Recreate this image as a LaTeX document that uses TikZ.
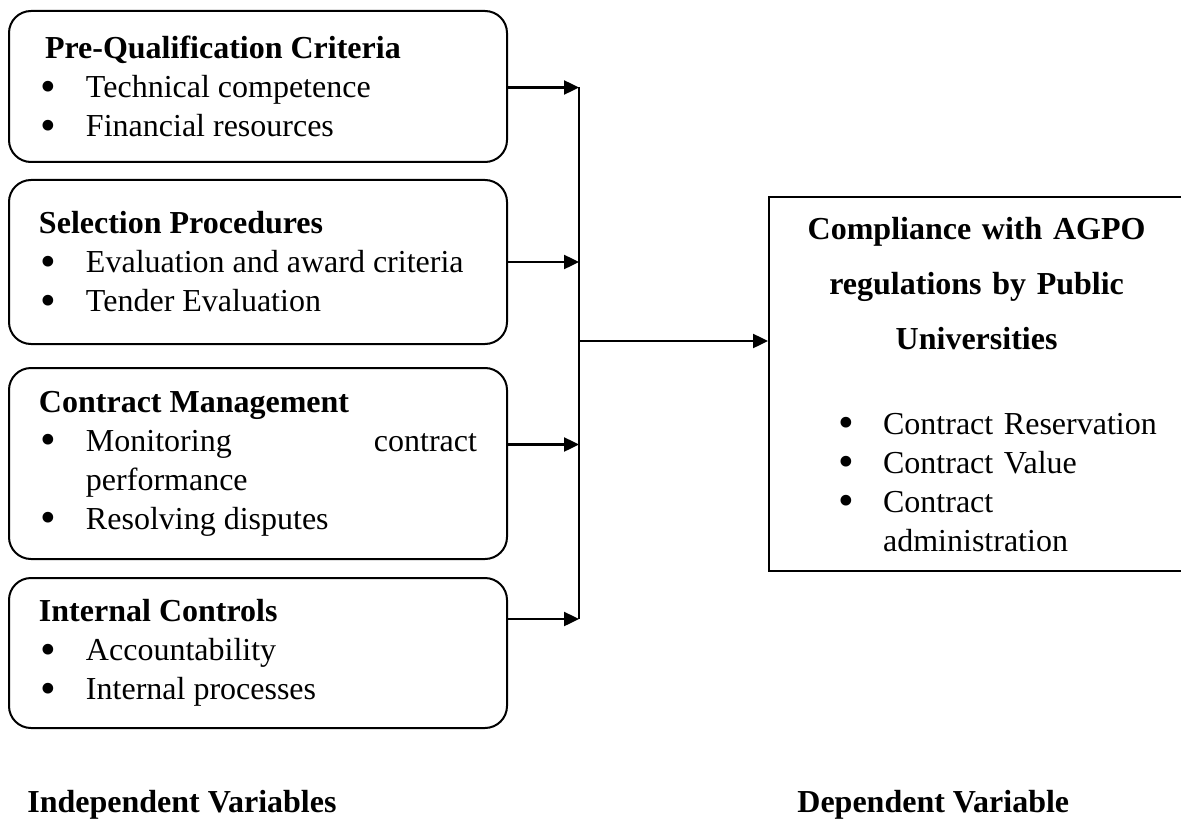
\documentclass[tikz,border=0pt]{standalone}
\usepackage{fontspec}
\setmainfont{Liberation Serif}
\usetikzlibrary{positioning,arrows.meta}
\tikzstyle{indbox} = [rectangle, draw, line width=1pt, rounded corners=11pt, minimum width=249pt, text width=219pt, inner xsep=15pt, inner ysep=0pt, align=justify]
\tikzstyle{depbox} = [rectangle, draw, line width=1.1pt, minimum width=207.5pt, minimum height=187pt, text width=197.5pt, inner xsep=5pt, align=center]
\tikzstyle{connector} = [line width=1.2pt,-{Triangle[length=7.5pt,width=7pt]}]
\tikzstyle{varlabel} = [font=\fontsize{16}{19.5}\selectfont\bfseries, inner sep=0pt, anchor=base west]

\newcommand{\bigdot}{\smash{\raisebox{-0.12em}{\scalebox{1.4}{\textbullet}}}}
\newcommand{\bitem}[1]{\par\noindent\hangindent=23.5pt\hangafter=1\makebox[23.5pt][l]{\hspace{1pt}\bigdot}#1}

\begin{document}
\begin{tikzpicture}[x=0.5pt,y=-0.5pt,font=\fontsize{16}{19.5}\selectfont]
    \useasboundingbox (0,0) rectangle (1181,818);
    % independent variables
    \node[indbox, minimum height=75.5pt, anchor=north west] (pre-qual) at (8,10)
        {\noindent\hspace*{3pt}\textbf{Pre-Qualification Criteria}\bitem{Technical competence}\bitem{Financial resources}};
    \node[indbox, minimum height=82pt, below=8pt of pre-qual] (selection)
        {\noindent\textbf{Selection Procedures}\bitem{Evaluation and award criteria}\bitem{Tender Evaluation}\par\vspace*{12pt}};
    \node[indbox, minimum height=95.5pt, below=11pt of selection] (contract-mgmt)
        {\noindent\textbf{Contract Management}\bitem{Monitoring\hfill contract\newline performance}\bitem{Resolving disputes}};
    \node[indbox, minimum height=75pt, below=8.5pt of contract-mgmt] (internal)
        {\noindent\textbf{Internal Controls}\bitem{Accountability}\bitem{Internal processes}};
    % dependent variable
    \node[depbox, anchor=north west] (compliance) at (768,196)
        {\textbf{Compliance with AGPO}\\[8pt]\textbf{regulations by Public}\\[8pt]\textbf{Universities}\\[23pt]%
        \hspace*{28.5pt}\parbox[t]{169pt}{\raggedright\bitem{Contract Reservation}\bitem{Contract Value}\bitem{Contract\newline administration}}};
    % bus
    \coordinate (bus-a) at (579,87.5);
    \coordinate (bus-b) at (579,262);
    \coordinate (bus-c) at (579,444.5);
    \coordinate (bus-d) at (579,619);
    \coordinate (hub) at (579,341);
    \draw [connector] (pre-qual.east |- bus-a) -- (bus-a);
    \draw [connector] (selection.east |- bus-b) -- (bus-b);
    \draw [connector] (contract-mgmt.east |- bus-c) -- (bus-c);
    \draw [connector] (internal.east |- bus-d) -- (bus-d);
    \draw [line width=1.2pt] (bus-a) -- (bus-d);
    \draw [connector] (hub) -- (hub -| compliance.west);
    % labels
    \node[varlabel] (iv-label) at (27,812) {Independent Variables};
    \node[varlabel] (dv-label) at (797,812) {Dependent Variable};
\end{tikzpicture}
\end{document}
